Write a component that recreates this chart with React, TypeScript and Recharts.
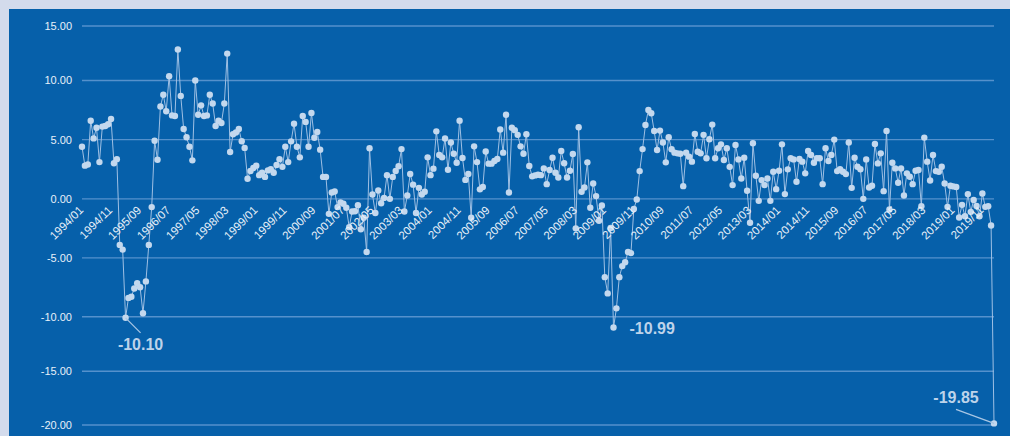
import React from "react";
import {
  LineChart,
  Line,
  XAxis,
  YAxis,
  CartesianGrid,
  LabelList,
} from "recharts";

// monthly growth, 1994/01 .. 2020/03
const values: number[] = [
  4.4, 2.8, 2.9, 6.6, 5.1, 6.0, 3.1, 6.1, 6.15, 6.3,
  6.75, 3.0, 3.35, -3.9, -4.3, -10.1, -8.4, -8.3, -7.6, -7.15,
  -7.5, -9.7, -7.0, -3.9, -0.7, 4.9, 3.3, 7.8, 8.8, 7.4,
  10.4, 7.05, 7.0, 12.85, 8.7, 5.9, 5.2, 4.4, 3.25, 10.0,
  7.1, 7.9, 7.0, 7.05, 8.8, 8.05, 6.15, 6.6, 6.4, 8.05,
  12.47, 3.95, 5.45, 5.6, 5.9, 4.86, 4.3, 1.7, 2.35, 2.6,
  2.8, 2.0, 2.2, 1.85, 2.4, 2.5, 2.2, 2.85, 3.35, 2.7,
  4.4, 3.1, 4.85, 6.35, 4.4, 3.5, 7.0, 6.5, 4.4, 7.25,
  5.15, 5.65, 4.15, 1.85, 1.85, -1.27, 0.54, 0.62, -0.7, -0.3,
  -0.42, -0.76, -2.4, -1.07, -1.05, -0.54, -2.57, -1.6, -4.5, 4.27,
  0.37, -1.2, 0.7, -0.37, 0.08, 2.0, 0.0, 1.85, 2.35, 2.75,
  4.2, -1.07, 0.28, 2.1, 1.2, -1.2, 0.93, 0.37, 0.6, 3.5,
  2.0, 2.55, 5.7, 3.7, 3.5, 5.1, 2.45, 4.75, 3.8, 3.05,
  6.6, 3.45, 1.6, 2.1, -1.6, 4.43, 3.1, 0.8, 1.0, 4.0,
  2.97, 2.97, 3.2, 3.36, 5.85, 3.9, 7.1, 0.54, 6.0, 5.8,
  5.4, 4.43, 3.8, 5.45, 2.77, 1.9, 1.98, 2.03, 2.0, 2.57,
  1.24, 2.43, 3.47, 2.2, 1.8, 4.04, 3.0, 1.8, 2.37, 3.79,
  -2.5, 6.05, 0.6, 0.96, 3.08, -0.76, 1.3, 0.23, -1.86, -0.56,
  -6.64, -8.02, -2.46, -10.99, -9.29, -6.64, -5.7, -5.37, -4.5, -4.6,
  -0.85, -0.06, 2.34, 4.2, 6.24, 7.5, 7.23, 5.73, 4.12, 5.76,
  4.75, 3.08, 5.2, 4.18, 3.9, 3.84, 3.8, 1.07, 3.9, 3.56,
  3.14, 5.48, 3.98, 3.84, 5.4, 3.42, 5.03, 6.27, 3.42, 4.27,
  4.6, 3.28, 4.27, 2.7, 1.16, 4.55, 3.33, 1.72, 3.47, 0.68,
  -2.03, 4.69, 1.95, -0.17, 1.58, 1.16, 1.72, -0.17, 2.29, 0.82,
  2.37, 4.6, 0.4, 2.49, 3.42, 3.33, 1.44, 3.36, 3.14, 2.15,
  4.04, 3.7, 3.05, 3.42, 3.42, 1.24, 4.27, 3.19, 3.7, 5.0,
  2.34, 2.51, 2.29, 2.09, 4.75, 0.93, 3.47, 2.71, 2.5, 0.0,
  3.33, 0.96, 1.1, 4.63, 2.99, 3.84, 0.65, 5.73, -0.9, 3.05,
  2.57, 1.36, 2.57, 0.28, 2.15, 1.86, 1.24, 2.37, 2.43, -0.62,
  5.17, 3.14, 1.55, 3.7, 2.34, 2.29, 2.71, 1.3, -0.68, 1.1,
  1.05, 1.0, -1.58, -0.51, -1.47, 0.4, -1.1, -0.1, -0.6, -1.47,
  0.45, -0.68, -0.62, -2.26, -19.85,
];

const months: string[] = values.map((_, i) => {
  const y = 1994 + Math.floor(i / 12);
  const m = (i % 12) + 1;
  return `${y}/${m < 10 ? "0" + m : m}`;
});

const yTicks = [15, 10, 5, 0, -5, -10, -15, -20];

// points that carry a value label
const annotated = ["1995/04", "2009/04", "2020/03"];

const data = months.map((month, i) => ({ month, value: values[i] }));

const W = 1001;
const H = 427;
const M = { top: 17, right: 16, bottom: 0, left: 0 };
const X_AXIS_H = 11;
const PLOT_H = H - M.top - M.bottom - X_AXIS_H;
const Y_MIN = -20;
const Y_MAX = 15;

// the source axis is not evenly spaced: share of the height at each tick, -20 up to 15
const stopVals = [-20, -15, -10, -5, 0, 5, 10, 15];
const stopPos = [0, 0.1347, 0.2714, 0.4189, 0.5668, 0.7153, 0.8633, 1];

const toShare = (v: number) => {
  let i = 0;
  while (i < stopVals.length - 2 && v > stopVals[i + 1]) i++;
  const a = stopVals[i];
  const b = stopVals[i + 1];
  return stopPos[i] + ((v - a) / (b - a)) * (stopPos[i + 1] - stopPos[i]);
};

const fromShare = (t: number) => {
  let i = 0;
  while (i < stopPos.length - 2 && t > stopPos[i + 1]) i++;
  const a = stopPos[i];
  const b = stopPos[i + 1];
  return stopVals[i] + ((t - a) / (b - a)) * (stopVals[i + 1] - stopVals[i]);
};

function stepScale(): any {
  let dom = [Y_MIN, Y_MAX];
  let rng = [0, 1];
  const s: any = (v: number) => rng[0] + (rng[1] - rng[0]) * toShare(v);
  s.domain = (d?: number[]) => {
    if (d === undefined) return dom.slice();
    dom = d.slice();
    return s;
  };
  s.range = (r?: number[]) => {
    if (r === undefined) return rng.slice();
    rng = r.slice();
    return s;
  };
  s.invert = (p: number) => fromShare((p - rng[0]) / (rng[1] - rng[0]));
  s.copy = () => stepScale().domain(dom).range(rng);
  s.ticks = () => stopVals.slice();
  s.tickFormat = () => (v: number) => String(v);
  s.nice = () => s;
  s.clamp = () => s;
  return s;
}

const zeroY = M.top + PLOT_H * (1 - toShare(0));

const FONT = "'Liberation Sans', Arial, sans-serif";

const MonthTick = ({ x, payload }: any) => (
  <text
    x={x + 2}
    y={zeroY + 12}
    transform={`rotate(-45 ${x + 2} ${zeroY + 12})`}
    textAnchor="end"
    fill="#e8f0f9"
    fontSize={11.5}
    fontFamily={FONT}
  >
    {payload.value}
  </text>
);

const MinLabel = (props: any) => {
  const { x, y, value, index } = props;
  const which = annotated.indexOf(months[index]);
  if (which < 0) return null;
  const text = Number(value).toFixed(2);
  const style = {
    fill: "#bdd3ea",
    fontSize: 16,
    fontWeight: 700,
    fontFamily: FONT,
  };
  if (which === 0) {
    return (
      <g>
        <line x1={x} y1={y} x2={x + 15} y2={y + 15} stroke="#a9c6e4" strokeWidth={1.2} />
        <text x={x + 15} y={y + 32} textAnchor="middle" {...style}>
          {text}
        </text>
      </g>
    );
  }
  if (which === 1) {
    return (
      <text x={x + 16} y={y + 6} textAnchor="start" {...style}>
        {text}
      </text>
    );
  }
  return (
    <g>
      <line x1={x} y1={y} x2={x - 38} y2={y - 14} stroke="#a9c6e4" strokeWidth={1.2} />
      <text x={x - 38} y={y - 20} textAnchor="middle" {...style}>
        {text}
      </text>
    </g>
  );
};

export default function App() {
  return (
    <div
      style={{
        position: "fixed",
        inset: 0,
        background: "#d3dbec",
        overflow: "hidden",
      }}
    >
      <div
        style={{
          position: "absolute",
          left: 9,
          top: 9,
          width: W,
          height: H,
          background: "#0660aa",
        }}
      >
        <LineChart width={W} height={H} data={data} margin={M}>
          <CartesianGrid
            horizontal
            vertical={false}
            stroke="#5591cc"
            strokeWidth={1.4}
          />
          <XAxis
            dataKey="month"
            interval={9}
            height={X_AXIS_H}
            axisLine={false}
            tickLine={false}
            tick={<MonthTick />}
          />
          <YAxis
            width={73}
            type="number"
            scale={stepScale()}
            domain={[Y_MIN, Y_MAX]}
            ticks={yTicks}
            axisLine={false}
            tickLine={false}
            tickSize={0}
            tickMargin={10}
            tickFormatter={(v: number) => v.toFixed(2)}
            tick={{ fill: "#e8f0f9", fontSize: 11, fontFamily: FONT }}
          />
          <Line
            type="linear"
            dataKey="value"
            stroke="#9fc0e4"
            strokeWidth={1}
            dot={{ r: 3.2, fill: "#c3d8ee", stroke: "none" }}
            activeDot={false}
            isAnimationActive={false}
          >
            <LabelList dataKey="value" content={<MinLabel />} />
          </Line>
        </LineChart>
      </div>
    </div>
  );
}
